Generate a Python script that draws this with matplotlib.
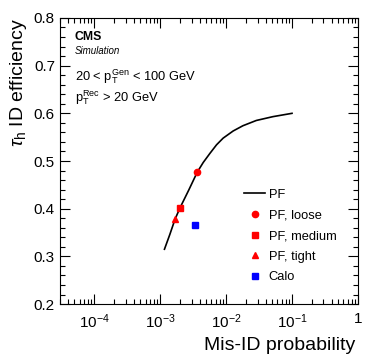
import numpy as np
import matplotlib
matplotlib.use("Agg")
import matplotlib.pyplot as plt
from matplotlib.ticker import MultipleLocator, FixedLocator, FixedFormatter, LogLocator

# PF curve
curve_x = [1.16e-3, 1.40e-3, 1.68e-3, 2.0e-3, 2.71e-3, 3.66e-3, 4.50e-3, 5.68e-3, 7.16e-3,
           9.02e-3, 1.28e-2, 1.80e-2, 2.87e-2, 5.12e-2, 0.1]
curve_y = [0.315, 0.346, 0.378, 0.402, 0.439, 0.477, 0.497, 0.516, 0.534,
           0.548, 0.563, 0.574, 0.585, 0.593, 0.600]

# working points
wp_names = ["PF, loose", "PF, medium", "PF, tight", "Calo"]
wp_x = [3.66e-3, 1.98e-3, 1.68e-3, 3.41e-3]
wp_y = [0.477, 0.402, 0.378, 0.365]

xtick_vals = [1e-4, 1e-3, 1e-2, 1e-1, 1]
xtick_labels = [r"$10^{-4}$", r"$10^{-3}$", r"$10^{-2}$", r"$10^{-1}$", "1"]
ytick_vals = [0.2, 0.3, 0.4, 0.5, 0.6, 0.7, 0.8]

plt.rcParams.update({
    "font.family": ["Liberation Sans", "DejaVu Sans"],
    "mathtext.fontset": "custom",
    "mathtext.rm": "Liberation Sans",
    "mathtext.it": "Liberation Sans:italic",
    "mathtext.bf": "Liberation Sans:bold",
})

fig = plt.figure(figsize=(3.74, 3.59), dpi=100)
ax = fig.add_axes([0.160, 0.153, 0.797, 0.797])

ax.plot(curve_x, curve_y, color="black", lw=1.2, label="PF")
styles = [("o", "red", 4.5), ("s", "red", 4.2), ("^", "red", 3.8), ("s", "blue", 4.2)]
for name, x, y, (m, c, s) in zip(wp_names, wp_x, wp_y, styles):
    ax.plot([x], [y], ls="none", marker=m, color=c, markersize=s, label=name)

ax.set_xscale("log")
ax.xaxis.set_major_locator(FixedLocator(xtick_vals))
ax.xaxis.set_major_formatter(FixedFormatter(xtick_labels))
ax.xaxis.set_minor_locator(LogLocator(base=10, subs=np.arange(2, 10)))
ax.xaxis.set_minor_formatter(FixedFormatter([]))
ax.set_yticks(ytick_vals)
ax.set_yticklabels([f"{v:.1f}" for v in ytick_vals])
ax.yaxis.set_minor_locator(MultipleLocator(0.02))
ax.set_xlim(3e-5, 1)
ax.set_ylim(0.2, 0.8)

ax.tick_params(which="both", direction="in", top=True, right=True, labelsize=11)
ax.tick_params(which="major", length=7, width=0.8)
ax.tick_params(which="minor", length=3.5, width=0.8)
ax.tick_params(axis="x", which="major", pad=6)

ax.set_xlabel("Mis-ID probability", fontsize=14, ha="right", x=0.99)
ax.set_ylabel(r"$\tau_{\mathrm{h}}$ ID efficiency", fontsize=14, ha="right", y=1.0)
ax.yaxis.set_label_coords(-0.105, 1.0)

ax.text(0.05, 0.935, "CMS", transform=ax.transAxes, fontsize=8.8, fontweight="bold", va="center")
ax.text(0.05, 0.885, "Simulation", transform=ax.transAxes, fontsize=7, style="italic", va="center")
ax.text(0.05, 0.795, r"20 < $\mathrm{p}_{\mathrm{T}}^{\mathrm{Gen}}$ < 100 GeV", transform=ax.transAxes,
        fontsize=9.3, va="center")
ax.text(0.05, 0.72, r"$\mathrm{p}_{\mathrm{T}}^{\mathrm{Rec}}$ > 20 GeV", transform=ax.transAxes,
        fontsize=9.3, va="center")

ax.legend(loc="upper left", bbox_to_anchor=(0.597, 0.425), frameon=False, fontsize=9.3,
          handlelength=1.6, handletextpad=0.3, labelspacing=0.66, borderpad=0)

fig.savefig("out.png", dpi=100)
